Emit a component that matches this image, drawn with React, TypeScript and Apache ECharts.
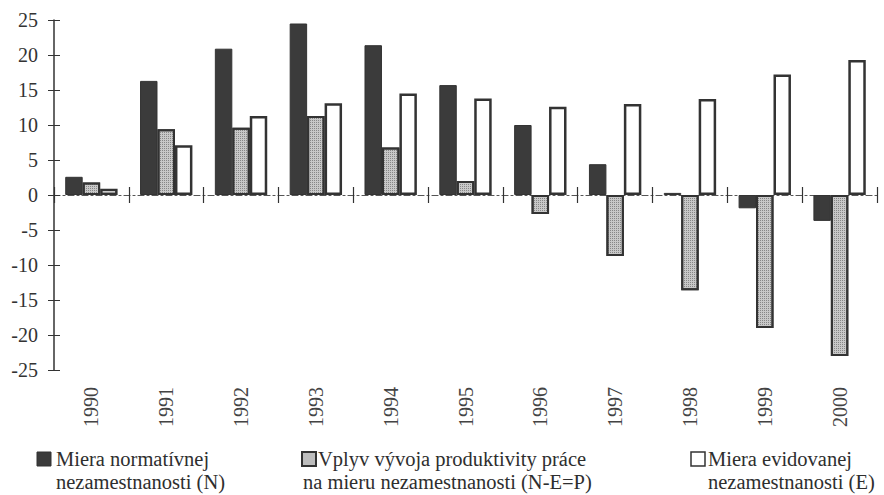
import React, { useEffect, useRef } from "react";
import * as echarts from "echarts";

const years = ["1990", "1991", "1992", "1993", "1994", "1995", "1996", "1997", "1998", "1999", "2000"];
const seriesN = [2.6, 16.3, 20.9, 24.5, 21.4, 15.7, 10.0, 4.4, 0.3, -1.9, -3.7];
const seriesP = [1.8, 9.4, 9.6, 11.3, 6.8, 2.0, -2.7, -8.7, -13.6, -19.0, -23.0];
const seriesE = [0.9, 7.1, 11.3, 13.1, 14.5, 13.8, 12.6, 13.0, 13.7, 17.2, 19.3];
const nameN = "Miera normatívnej nezamestnanosti (N)";
const nameP = "Vplyv vývoja produktivity práce na mieru nezamestnanosti (N-E=P)";
const nameE = "Miera evidovanej nezamestnanosti (E)";

const SERIF = "Liberation Serif, Times New Roman, serif";
const INK = "#2e2e2e";

export default function App() {
  const ref = useRef<HTMLDivElement>(null);
  useEffect(() => {
    if (!ref.current) return;
    const chart = echarts.init(ref.current, null, { renderer: "svg" });
    const decal = {
      symbol: "rect",
      symbolSize: 1,
      dashArrayX: [1, 1],
      dashArrayY: [1, 1],
      color: "rgba(70,70,70,0.5)",
    };
    const legendText = (x: number, y: number, text: string) => ({
      type: "text",
      x,
      y,
      style: { text, fontFamily: SERIF, fontSize: 20.5, fill: INK, align: "left", verticalAlign: "middle" },
    });
    chart.setOption({
      animation: false,
      backgroundColor: "#fff",
      grid: { left: 54, right: 7, top: 20, bottom: 125 },
      xAxis: [
        {
          type: "category",
          data: years,
          position: "bottom",
          axisLine: { show: false, onZero: false },
          axisTick: { show: false },
          axisLabel: {
            rotate: 90,
            margin: 17,
            fontFamily: SERIF,
            fontSize: 20,
            color: "#444",
          },
        },
        {
          type: "category",
          data: years,
          position: "bottom",
          axisLine: { show: true, onZero: true, onZeroAxisIndex: 0, lineStyle: { color: "#555", type: [6, 3, 2, 3], width: 1.2 } },
          axisTick: { show: true, length: 8, lineStyle: { color: "#333", width: 1.2 } },
          axisLabel: { show: false },
        },
        {
          type: "category",
          data: years,
          position: "top",
          axisLine: { show: false, onZero: true, onZeroAxisIndex: 0 },
          axisTick: { show: true, length: 8, lineStyle: { color: "#333", width: 1.2 } },
          axisLabel: { show: false },
        },
      ],
      yAxis: [
        {
          type: "value",
          min: -25,
          max: 25,
          interval: 5,
          position: "left",
          axisLine: { show: true, lineStyle: { color: "#333", width: 1.5 } },
          axisTick: { show: true, length: 6, lineStyle: { color: "#333" } },
          splitLine: { show: false },
          axisLabel: { margin: 16, fontFamily: SERIF, fontSize: 20, color: "#333" },
        },
        {
          type: "value",
          min: -25,
          max: 25,
          interval: 5,
          position: "left",
          axisLine: { show: false },
          axisTick: { show: true, inside: true, length: 6, lineStyle: { color: "#333" } },
          splitLine: { show: false },
          axisLabel: { show: false },
        },
      ],
      series: [
        {
          name: nameN,
          type: "bar",
          data: seriesN,
          barGap: "0%",
          barCategoryGap: "30%",
          itemStyle: { color: "#3b3b3b", borderColor: "#333", borderWidth: 1 },
        },
        {
          name: nameP,
          type: "bar",
          data: seriesP,
          barGap: "0%",
          barCategoryGap: "30%",
          itemStyle: { color: "#c8c8c8", borderColor: "#333", borderWidth: 2, decal },
        },
        {
          name: nameE,
          type: "bar",
          data: seriesE,
          barGap: "0%",
          barCategoryGap: "30%",
          itemStyle: { color: "#ffffff", borderColor: "#333", borderWidth: 2.5 },
        },
      ],
      graphic: [
        { type: "rect", shape: { x: 37, y: 452, width: 14, height: 14 }, style: { fill: "#3b3b3b", stroke: "#333", lineWidth: 1 } },
        legendText(56, 459, "Miera normatívnej"),
        legendText(56, 482, "nezamestnanosti (N)"),
        { type: "rect", shape: { x: 302, y: 452, width: 14, height: 14 }, style: { fill: "#bdbdbd", stroke: "#333", lineWidth: 2 } },
        legendText(318, 459, "Vplyv vývoja produktivity práce"),
        legendText(303, 482, "na mieru nezamestnanosti (N-E=P)"),
        { type: "rect", shape: { x: 691, y: 452, width: 14, height: 14 }, style: { fill: "#fff", stroke: "#333", lineWidth: 1.5 } },
        legendText(708, 459, "Miera evidovanej"),
        legendText(708, 482, "nezamestnanosti (E)"),
      ],
    });
    return () => chart.dispose();
  }, []);
  return <div ref={ref} style={{ width: 884, height: 495, position: "absolute", left: 0, top: 0 }} />;
}
